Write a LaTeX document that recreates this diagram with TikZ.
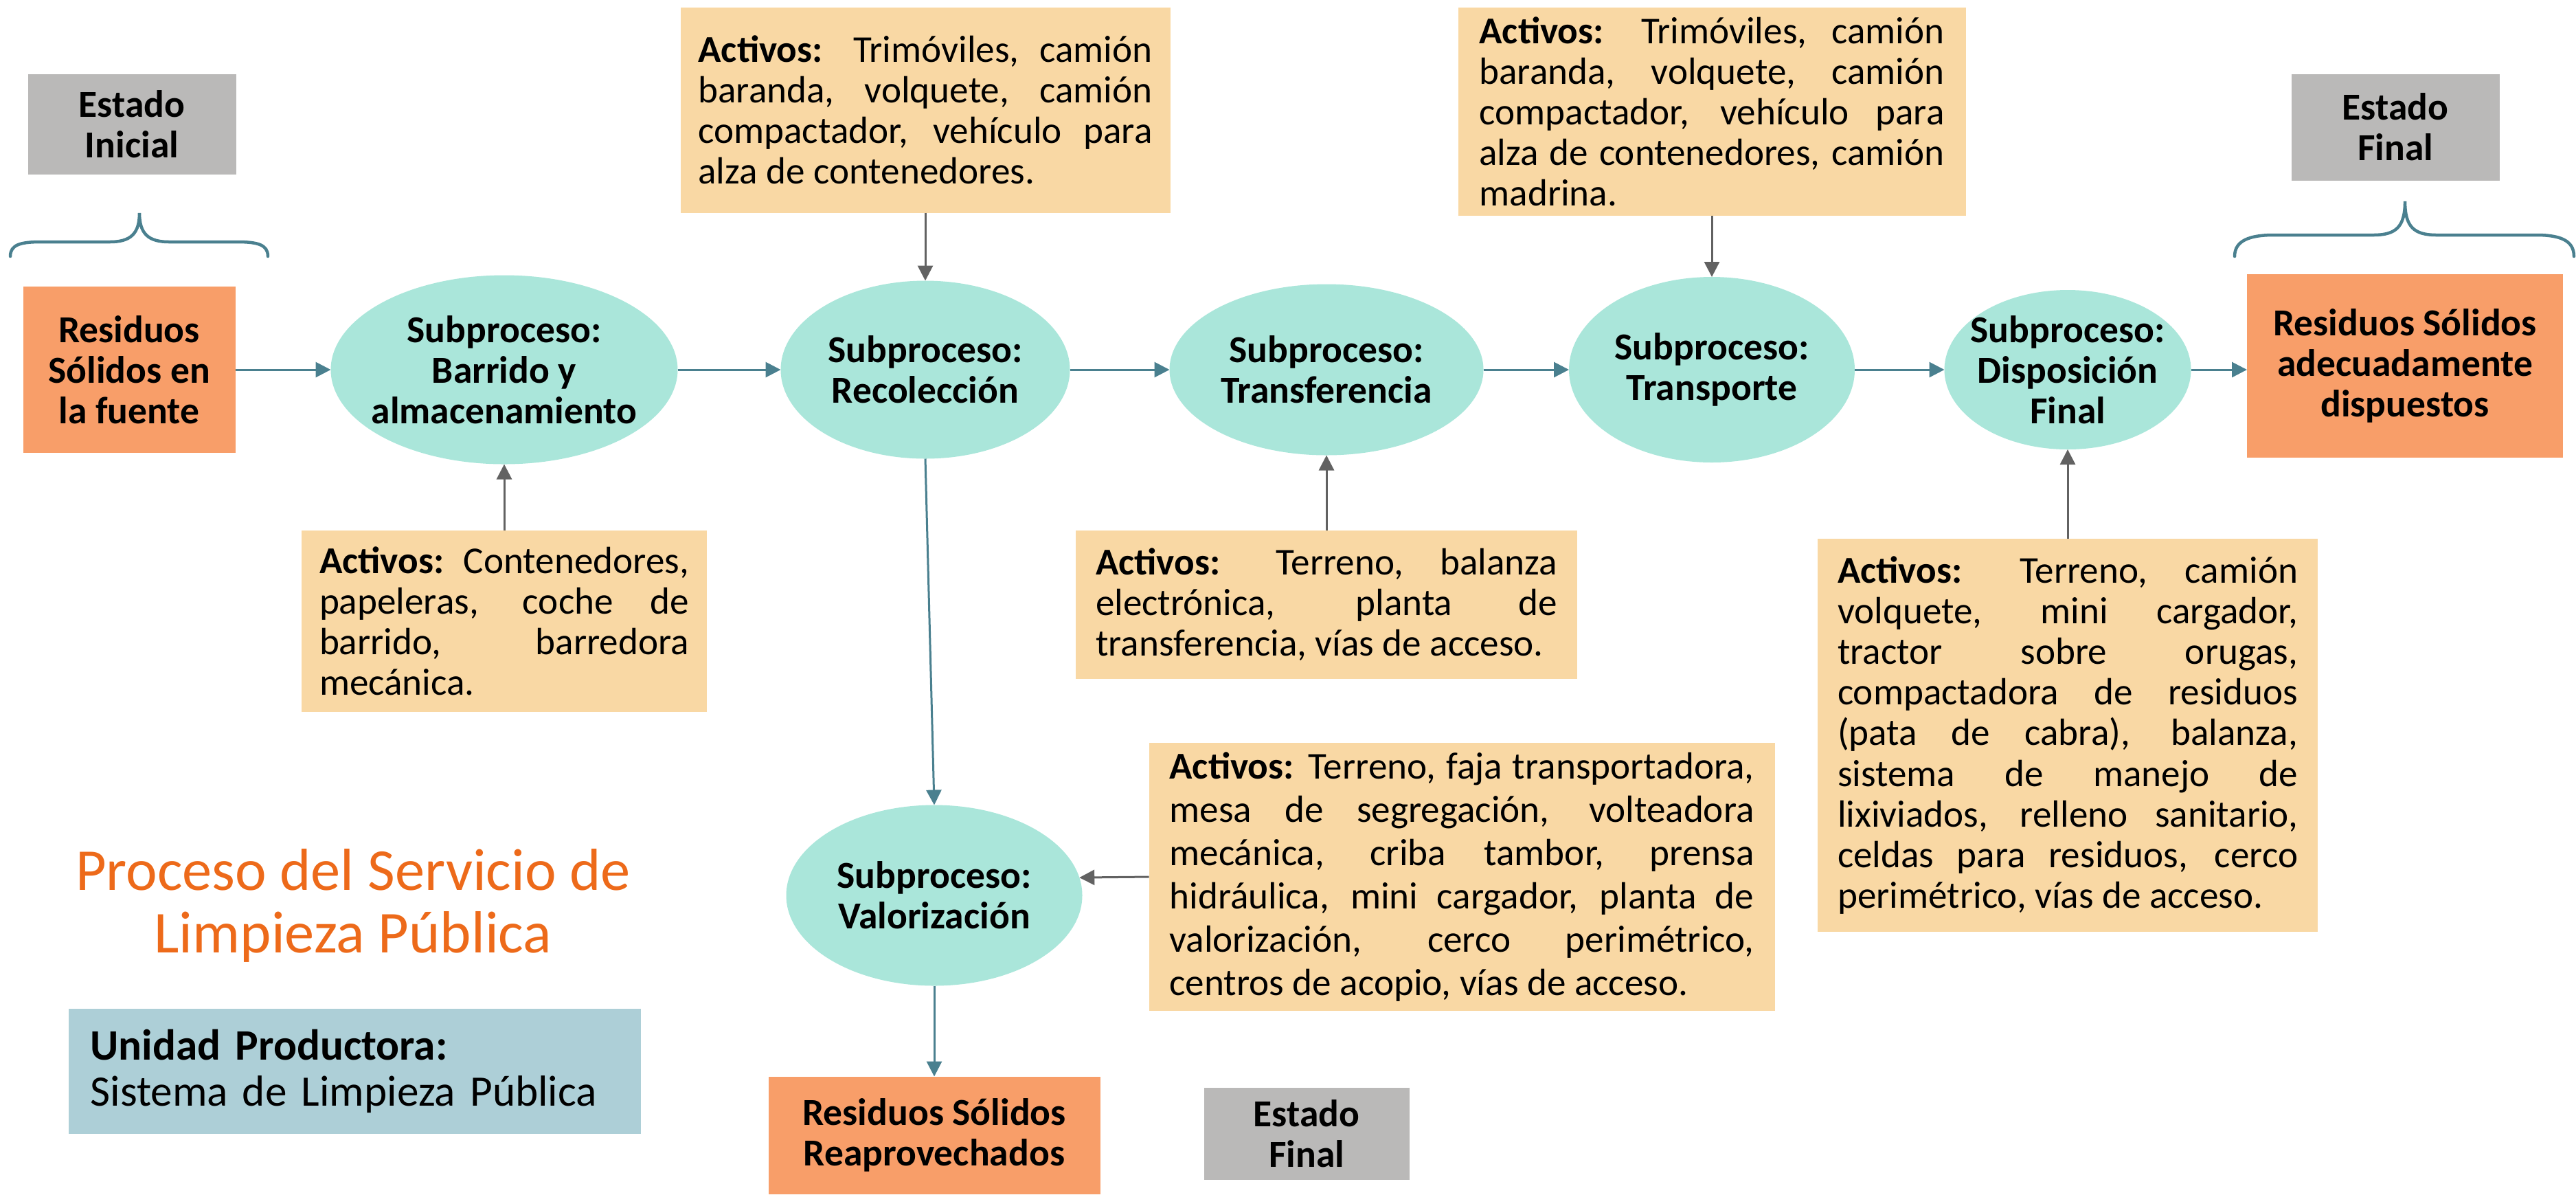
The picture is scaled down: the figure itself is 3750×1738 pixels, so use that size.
\documentclass[tikz,border=0pt]{standalone}
\usepackage{fontspec}
\setmainfont{Carlito}
\usetikzlibrary{shapes.geometric,arrows.meta}
\definecolor{orbox}{RGB}{248,158,105}
\definecolor{graybox}{RGB}{186,185,184}
\definecolor{mint}{RGB}{170,230,218}
\definecolor{peach}{RGB}{249,216,164}
\definecolor{unitblue}{RGB}{173,207,215}
\definecolor{titleor}{RGB}{237,106,26}
\definecolor{tealln}{RGB}{74,128,143}
\definecolor{grayln}{RGB}{98,98,98}
\begin{document}
\hyphenpenalty=10000
\exhyphenpenalty=10000
\begin{tikzpicture}[x=0.1mm,y=-0.1mm,
 every node/.style={inner sep=0pt, outer sep=0pt},
 bodyfont/.style={font=\fontsize{15.7}{16.8}\selectfont},
 boldfont/.style={font=\fontsize{15.8}{16.8}\selectfont\bfseries},
 ell/.style={ellipse, fill=mint},
 elltext/.style={boldfont, align=center},
 resbox/.style={rectangle, fill=orbox, boldfont, align=center},
 estbox/.style={rectangle, fill=graybox, boldfont, align=center},
 actbox/.style={rectangle, fill=peach, bodyfont, align=justify},
 flow/.style={draw=tealln, line width=0.3mm, -{Triangle[length=2.2mm,width=2.2mm]}},
 feed/.style={draw=grayln, line width=0.3mm, -{Triangle[length=2.2mm,width=2.2mm]}},
 bracestyle/.style={draw=tealln, line width=0.45mm, line cap=round},
]
\useasboundingbox (0,0) rectangle (3750,1738);

% states
\node[estbox, minimum width=30.3mm, minimum height=14.6mm] (estIni) at (192,181) {Estado\\Inicial};
\node[estbox, minimum width=30.3mm, minimum height=15.5mm] (estFin) at (3487,185) {Estado\\Final};
\node[estbox, minimum width=29.9mm, minimum height=13.4mm] (estFin2) at (1902,1650) {Estado\\Final};

% residues
\node[resbox, minimum width=30.9mm, minimum height=24.2mm] (fuente) at (188,538) {Residuos\\Sólidos en\\la fuente};
\node[resbox, minimum width=46.0mm, minimum height=26.7mm] (adec) at (3501,532) {Residuos Sólidos\\adecuadamente\\dispuestos};
\node[resbox, minimum width=48.3mm, minimum height=17.1mm] (reaprov) at (1360,1652) {Residuos Sólidos\\Reaprovechados};

% subprocesses
\node[ell, minimum width=50.5mm, minimum height=27.5mm] (barrido) at (734,538) {};
\node[elltext] (barridoT) at (barrido) {Subproceso:\\Barrido y\\almacenamiento};
\node[ell, minimum width=42.1mm, minimum height=25.9mm] (recol) at (1347,538) {};
\node[elltext] (recolT) at (recol) {Subproceso:\\Recolección};
\node[ell, minimum width=45.7mm, minimum height=24.9mm] (transf) at (1931,538) {};
\node[elltext] (transfT) at (transf) {Subproceso:\\Transferencia};
\node[ell, minimum width=41.6mm, minimum height=27.0mm] (transp) at (2492,538) {};
\node[elltext] (transpT) at (transp) {Subproceso:\\Transporte};
\node[ell, minimum width=35.9mm, minimum height=23.2mm] (dispo) at (3010,538) {};
\node[elltext] (dispoT) at (dispo) {Subproceso:\\Disposición\\Final};
\node[ell, minimum width=43.1mm, minimum height=26.3mm] (valor) at (1360,1303) {};
\node[elltext] (valorT) at (valor) {Subproceso:\\Valorización};

% assets
\node[actbox, minimum width=71.3mm, minimum height=29.9mm, text width=66.1mm] (top1) at (1347,160)
 {\textbf{Activos:} Trimóviles, camión\linebreak baranda, volquete, camión\linebreak compactador, vehículo para\linebreak alza de contenedores.};
\node[actbox, minimum width=73.9mm, minimum height=30.3mm, text width=67.7mm] (top2) at (2492,162)
 {\textbf{Activos:} Trimóviles, camión\linebreak baranda, volquete, camión\linebreak compactador, vehículo para\linebreak alza de contenedores, camión\linebreak madrina.};
\node[actbox, minimum width=59.0mm, minimum height=26.4mm, text width=53.8mm] (baract) at (734,904)
 {\textbf{Activos:} Contenedores,\linebreak papeleras, coche de\linebreak barrido, barredora\linebreak mecánica.};
\node[actbox, minimum width=73.0mm, minimum height=21.6mm, text width=67.2mm] (transact) at (1931,880)
 {\textbf{Activos:} Terreno, balanza\linebreak electrónica, planta de\linebreak transferencia, vías de acceso.};
\node[actbox, minimum width=72.8mm, minimum height=57.2mm, text width=67.0mm] (dispact) at (3010,1070)
 {\textbf{Activos:} Terreno, camión\linebreak volquete, mini cargador,\linebreak tractor sobre orugas,\linebreak compactadora de residuos\linebreak (pata de cabra), balanza,\linebreak sistema de manejo de\linebreak lixiviados, relleno sanitario,\linebreak celdas para residuos, cerco\linebreak perimétrico, vías de acceso.};
\node[actbox, minimum width=91.1mm, minimum height=39.0mm, text width=85.1mm,
 font=\fontsize{15.7}{17.9}\selectfont] (valact) at (2128,1276)
 {\textbf{Activos:} Terreno, faja transportadora,\linebreak mesa de segregación, volteadora\linebreak mecánica, criba tambor, prensa\linebreak hidráulica, mini cargador, planta de\linebreak valorización, cerco perimétrico,\linebreak centros de acopio, vías de acceso.};

% title and unit
\node[text=titleor, align=center, font=\fontsize{24.6}{25.8}\selectfont] (title) at (514,1318)
 {Proceso del Servicio de\\Limpieza Pública};
\node[rectangle, fill=unitblue, minimum width=83.3mm, minimum height=18.2mm, text width=76.9mm,
 align=left, font=\fontsize{18}{19.2}\selectfont] (unidad) at (516,1559)
 {\textbf{Unidad Productora:}\\Sistema de Limpieza Pública};

% main flow
\draw[flow] (fuente.east) -- (barrido.west);
\draw[flow] (barrido) -- (recol);
\draw[flow] (recol) -- (transf);
\draw[flow] (transf) -- (transp);
\draw[flow] (transp) -- (dispo);
\draw[flow] (dispo.east) -- (dispo.east -| adec.west);
\draw[flow] (recol.south) -- (valor.north);
\draw[flow] (valor.south) -- (reaprov.north);

% asset feeds
\draw[feed] (top1) -- (recol);
\draw[feed] (top2) -- (transp);
\draw[feed] (baract) -- (barrido);
\draw[feed] (transact) -- (transf);
\draw[feed] (dispact) -- (dispo);
\draw[feed] (valact.west) -- (valor.7);

% braces
\draw[bracestyle] (15,373) .. controls (15,356) and (30,352) .. (60,352) -- (160,352)
  .. controls (190,352) and (203,340) .. (203,310)
  .. controls (203,340) and (216,352) .. (246,352) -- (345,352)
  .. controls (375,352) and (390,356) .. (390,373);
\draw[bracestyle] (3253,373) .. controls (3253,350) and (3275,342) .. (3310,342) -- (3455,342)
  .. controls (3488,342) and (3501,330) .. (3501,293)
  .. controls (3501,330) and (3514,342) .. (3547,342) -- (3692,342)
  .. controls (3727,342) and (3747,350) .. (3747,373);
\end{tikzpicture}
\end{document}
